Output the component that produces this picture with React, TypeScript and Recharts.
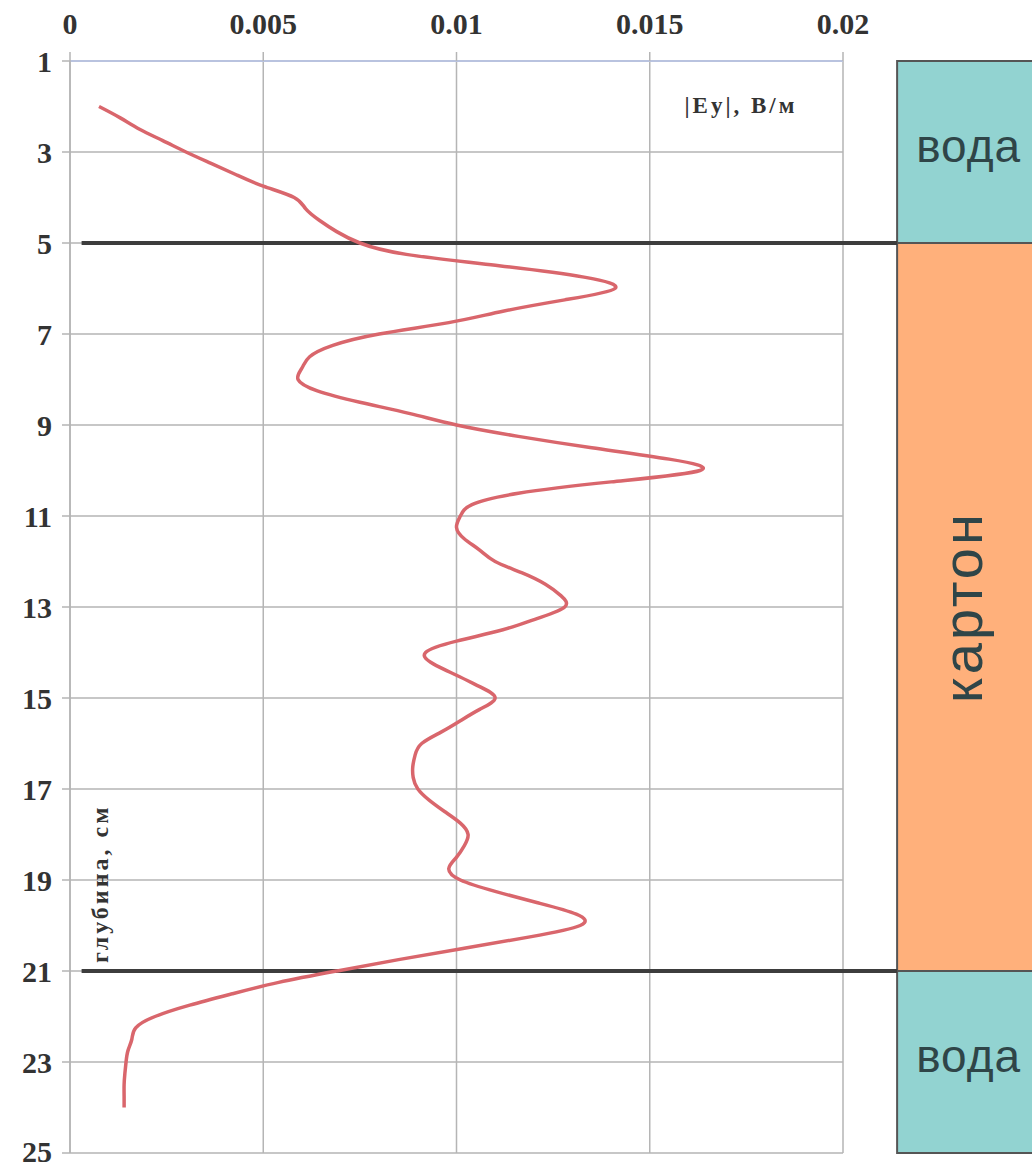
import React from 'react';
import {
  LineChart,
  Line,
  XAxis,
  YAxis,
  CartesianGrid,
  ReferenceArea,
  ReferenceLine,
} from 'recharts';

// depth, cm (read every 0.25 cm)
const depthCm = [
  2.0, 2.25, 2.5, 2.75, 3.0, 3.25, 3.5, 3.75, 4.0, 4.25, 4.5, 4.75, 5.0, 5.25, 5.5, 5.75,
  6.0, 6.25, 6.5, 6.75, 7.0, 7.25, 7.5, 7.75, 8.0, 8.25, 8.5, 8.75, 9.0, 9.25, 9.5, 9.75,
  10.0, 10.25, 10.5, 10.75, 11.0, 11.25, 11.5, 11.75, 12.0, 12.25, 12.5, 12.75, 13.0,
  13.25, 13.5, 13.75, 14.0, 14.25, 14.5, 14.75, 15.0, 15.25, 15.5, 15.75, 16.0, 16.25,
  16.5, 16.75, 17.0, 17.25, 17.5, 17.75, 18.0, 18.25, 18.5, 18.75, 19.0, 19.25, 19.5,
  19.75, 20.0, 20.25, 20.5, 20.75, 21.0, 21.25, 21.5, 21.75, 22.0, 22.25, 22.5, 22.75,
  23.0, 23.25, 23.5, 23.75, 24.0,
];

// |Ey|, V/m
const eyValues = [
  0.00075, 0.0013, 0.0018, 0.0024, 0.003, 0.00365, 0.0043, 0.005, 0.0058, 0.0061, 0.00645,
  0.0069, 0.0075, 0.0087, 0.0111, 0.0133, 0.0141, 0.0128, 0.0112, 0.0098, 0.008, 0.0068,
  0.0062, 0.006, 0.0059, 0.0064, 0.0075, 0.0088, 0.01, 0.0116, 0.0135, 0.0155, 0.0163,
  0.014, 0.0116, 0.0104, 0.0101, 0.01, 0.0102, 0.0106, 0.011, 0.0117, 0.0123, 0.0127,
  0.0128, 0.0121, 0.0112, 0.01, 0.0092, 0.0094, 0.01, 0.0106, 0.011, 0.0106, 0.0101,
  0.0096, 0.0091, 0.00893, 0.00887, 0.00888, 0.009, 0.0093, 0.0097, 0.0101, 0.0103, 0.0102,
  0.01, 0.0098, 0.0101, 0.011, 0.0121, 0.0131, 0.0132, 0.0119, 0.0102, 0.0085, 0.0069,
  0.0054, 0.0042, 0.0031, 0.0022, 0.0017, 0.0016, 0.0015, 0.00145, 0.00142, 0.0014,
  0.0014, 0.0014,
];

const xTicks = [0, 0.005, 0.01, 0.015, 0.02];
const yTicks = [1, 3, 5, 7, 9, 11, 13, 15, 17, 19, 21, 23, 25];

const layerNames = ['вода', 'картон', 'вода'];
const layerTop = [1, 5, 21];
const layerBottom = [5, 21, 25];
const layerColors = ['#92d3d1', '#ffb07b', '#92d3d1'];
const layerX = [0.0214, 0.0251];

const boundaryDepths = [5, 21];
const boundaryX = [0.0003, 0.0214];

const data = depthCm.map((d, i) => ({ depth: d, ey: eyValues[i] }));

const tickFont = {
  fontFamily: '"Liberation Serif", "Times New Roman", serif',
  fontWeight: 700,
  fontSize: 30,
  fill: '#333333',
};

const xAxisLabel = (props: any) => {
  const vb = props.viewBox || {};
  const x = vb.x + vb.width * 0.868;
  return (
    <text
      x={x}
      y={113}
      textAnchor="middle"
      fontFamily='"Liberation Serif", "Times New Roman", serif'
      fontWeight={700}
      fontSize={23}
      letterSpacing={3}
      fill="#333333"
    >
      |Ey|, В/м
    </text>
  );
};

const yAxisLabel = (props: any) => {
  const vb = props.viewBox || {};
  const x = vb.x + vb.width + 38;
  const y = vb.y + vb.height * 0.826;
  return (
    <text
      x={x}
      y={y}
      transform={`rotate(-90, ${x}, ${y})`}
      textAnchor="start"
      fontFamily='"Liberation Serif", "Times New Roman", serif'
      fontWeight={700}
      fontSize={24}
      letterSpacing={3}
      fill="#333333"
    >
      глубина, см
    </text>
  );
};

export default function App() {
  return (
    <div style={{ position: 'absolute', left: 0, top: 0, width: 1032, height: 1168, background: '#ffffff' }}>
      <LineChart
        width={1032}
        height={1168}
        layout="vertical"
        data={data}
        margin={{ top: 21, right: 189, bottom: 15, left: 10 }}
      >
        {layerNames.map((name, i) => (
          <ReferenceArea
            key={`layer-${i}`}
            x1={layerX[0]}
            x2={layerX[1]}
            y1={layerTop[i]}
            y2={layerBottom[i]}
            ifOverflow="visible"
            fill={layerColors[i]}
            fillOpacity={1}
            stroke="#555555"
            strokeWidth={2}
            label={{
              value: name,
              position: 'center',
              angle: name === 'картон' ? -90 : 0,
              fontFamily: '"Liberation Sans", Arial, sans-serif',
              fontSize: name === 'картон' ? 56 : 46,
              fill: '#2f4548',
              dy: name === 'картон' ? 0 : -6,
              dx: name === 'картон' ? -6 : 0,
              letterSpacing: name === 'картон' ? 3 : 1,
            }}
          />
        ))}
        <CartesianGrid stroke="#b5b5b5" strokeWidth={1.5} />
        <XAxis
          type="number"
          dataKey="ey"
          orientation="top"
          domain={[0, 0.02]}
          ticks={xTicks}
          height={40}
          tickSize={9}
          tickMargin={18}
          tick={tickFont}
          axisLine={{ stroke: '#b9c3df', strokeWidth: 2 }}
          tickLine={{ stroke: '#b5b5b5', strokeWidth: 1.5 }}
          label={xAxisLabel}
        />
        <YAxis
          type="number"
          dataKey="depth"
          domain={[1, 25]}
          ticks={yTicks}
          width={60}
          tickSize={8}
          tickMargin={10}
          tick={tickFont}
          axisLine={{ stroke: '#b5b5b5', strokeWidth: 1.5 }}
          tickLine={{ stroke: '#b5b5b5', strokeWidth: 1.5 }}
          label={yAxisLabel}
        />
        {boundaryDepths.map((d, i) => (
          <ReferenceLine
            key={`bnd-${i}`}
            segment={[
              { x: boundaryX[0], y: d },
              { x: boundaryX[1], y: d },
            ]}
            ifOverflow="visible"
            stroke="#3d3d3d"
            strokeWidth={4}
          />
        ))}
        <Line
          type="natural"
          dataKey="ey"
          stroke="#d9666c"
          strokeWidth={3.5}
          dot={false}
          activeDot={false}
          isAnimationActive={false}
        />
      </LineChart>
    </div>
  );
}
